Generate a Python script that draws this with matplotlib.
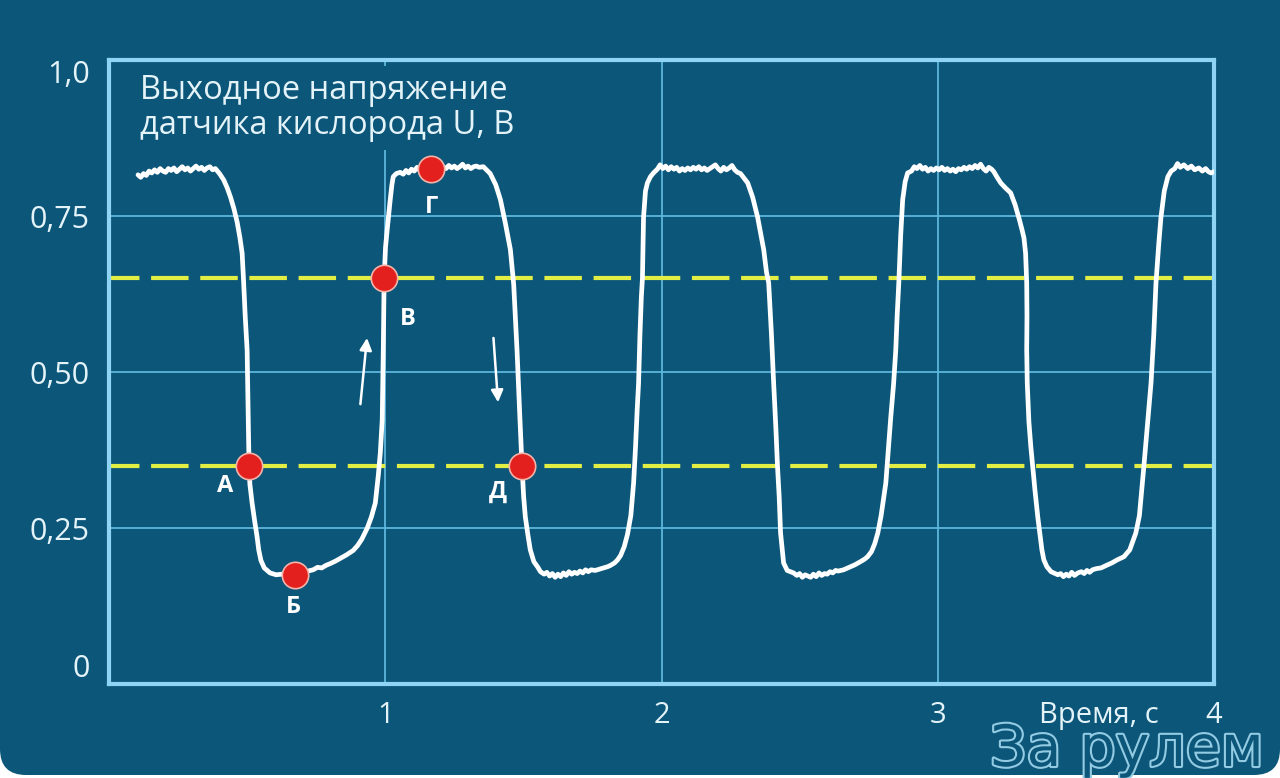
import matplotlib
matplotlib.use("Agg")
import matplotlib.pyplot as plt
from matplotlib.patches import FancyBboxPatch
from matplotlib.transforms import IdentityTransform
import matplotlib.patheffects as pe

# sensor output voltage trace (time in s, voltage in V)
time_s = [
    0.105, 0.115, 0.125, 0.135, 0.145, 0.155, 0.165, 0.175, 0.185, 0.195,
    0.205, 0.215, 0.225, 0.235, 0.245, 0.255, 0.265, 0.275, 0.285, 0.295,
    0.305, 0.315, 0.325, 0.335, 0.345, 0.355, 0.365, 0.375, 0.385,
    0.400, 0.415, 0.428, 0.440, 0.452, 0.464, 0.474, 0.482, 0.487, 0.493,
    0.500, 0.503, 0.505, 0.507, 0.510, 0.518, 0.527, 0.536, 0.542, 0.550,
    0.562, 0.583, 0.605, 0.625, 0.645, 0.660, 0.674, 0.690, 0.705, 0.720,
    0.739, 0.755, 0.770, 0.785, 0.801, 0.820, 0.840, 0.860, 0.884, 0.900,
    0.915, 0.935, 0.950, 0.964, 0.975, 0.982, 0.989, 0.993, 0.996, 1.001,
    1.007, 1.018, 1.024, 1.029, 1.040, 1.054, 1.065, 1.075, 1.085, 1.095,
    1.105, 1.115, 1.125, 1.135, 1.150, 1.167, 1.180, 1.190, 1.200, 1.210,
    1.220, 1.230, 1.240, 1.250, 1.260, 1.270, 1.280, 1.290, 1.300, 1.310,
    1.320, 1.330, 1.340, 1.355,
    1.380, 1.400, 1.417, 1.435, 1.453, 1.465, 1.471, 1.477, 1.482, 1.488,
    1.495, 1.501, 1.507, 1.516, 1.525, 1.538, 1.551, 1.562, 1.575,
    1.585, 1.595, 1.605, 1.615, 1.625, 1.635, 1.645, 1.655, 1.665, 1.675,
    1.685, 1.695, 1.705, 1.715, 1.725, 1.735, 1.745, 1.760, 1.775, 1.790,
    1.805, 1.815,
    1.830, 1.841, 1.852, 1.865, 1.877, 1.889, 1.899, 1.906, 1.912, 1.917,
    1.922, 1.927, 1.931, 1.935, 1.942, 1.949, 1.960, 1.971,
    1.985, 1.995, 2.005, 2.015, 2.025, 2.035, 2.045, 2.055, 2.065, 2.075,
    2.085, 2.095, 2.105, 2.115, 2.125, 2.135, 2.145, 2.155, 2.165, 2.175,
    2.185, 2.195, 2.205, 2.215, 2.225, 2.235, 2.245, 2.255, 2.265, 2.275,
    2.286,
    2.300, 2.312, 2.330, 2.348, 2.360, 2.370, 2.380, 2.388, 2.398, 2.406,
    2.414, 2.420, 2.426, 2.431, 2.437, 2.442, 2.455, 2.478,
    2.490, 2.500, 2.510, 2.520, 2.530, 2.540, 2.550, 2.560, 2.570, 2.580,
    2.590, 2.600, 2.610, 2.620, 2.630, 2.640, 2.659, 2.680, 2.700, 2.720,
    2.735, 2.746,
    2.760, 2.772, 2.783, 2.795, 2.805, 2.812, 2.822, 2.830, 2.840, 2.848,
    2.853, 2.859, 2.866, 2.873, 2.882, 2.891,
    2.905, 2.915, 2.925, 2.935, 2.945, 2.955, 2.965, 2.975, 2.985, 2.995,
    3.005, 3.015, 3.025, 3.035, 3.045, 3.055, 3.065, 3.075, 3.085, 3.095,
    3.105, 3.115, 3.125, 3.135, 3.145, 3.155, 3.165, 3.175, 3.185, 3.195,
    3.203,
    3.215, 3.228, 3.245, 3.264, 3.280, 3.295, 3.305, 3.312, 3.318, 3.322,
    3.323, 3.322, 3.324, 3.330, 3.337, 3.344, 3.352, 3.362, 3.370, 3.377,
    3.384, 3.395, 3.410, 3.420,
    3.435, 3.445, 3.455, 3.465, 3.475, 3.485, 3.495, 3.507, 3.520, 3.530,
    3.540, 3.550, 3.560, 3.575, 3.591, 3.610, 3.630, 3.650, 3.674, 3.695,
    3.717, 3.730, 3.746, 3.760, 3.772, 3.782, 3.790, 3.800, 3.808, 3.820,
    3.833, 3.845, 3.858, 3.868, 3.878, 3.891, 3.905, 3.918, 3.930, 3.945,
    3.958, 3.970, 3.980, 3.989, 4.000,
]
voltage = [
    0.816, 0.812, 0.818, 0.815, 0.822, 0.819, 0.824, 0.820, 0.826, 0.822,
    0.820, 0.826, 0.823, 0.827, 0.821, 0.825, 0.829, 0.824, 0.827, 0.822,
    0.826, 0.830, 0.825, 0.828, 0.823, 0.827, 0.829, 0.824, 0.826,
    0.818, 0.808, 0.795, 0.780, 0.762, 0.740, 0.715, 0.690, 0.647, 0.590,
    0.535, 0.450, 0.400, 0.350, 0.320, 0.290, 0.262, 0.236, 0.215, 0.198,
    0.186, 0.178, 0.175, 0.176, 0.172, 0.174, 0.175, 0.176, 0.178, 0.181,
    0.183, 0.187, 0.186, 0.190, 0.193, 0.197, 0.202, 0.207, 0.214, 0.222,
    0.232, 0.250, 0.268, 0.290, 0.335, 0.370, 0.423, 0.540, 0.650, 0.700,
    0.728, 0.776, 0.800, 0.813, 0.818, 0.820, 0.817, 0.823, 0.819, 0.825,
    0.822, 0.828, 0.823, 0.826, 0.822, 0.825, 0.823, 0.828, 0.824, 0.829,
    0.826, 0.831, 0.827, 0.830, 0.826, 0.829, 0.833, 0.827, 0.830, 0.826,
    0.829, 0.830, 0.828, 0.829,
    0.818, 0.800, 0.776, 0.738, 0.696, 0.640, 0.588, 0.535, 0.482, 0.420,
    0.350, 0.300, 0.268, 0.240, 0.215, 0.196, 0.188, 0.180, 0.176,
    0.179, 0.173, 0.177, 0.171, 0.176, 0.172, 0.178, 0.174, 0.180, 0.176,
    0.179, 0.177, 0.181, 0.178, 0.183, 0.180, 0.183, 0.182, 0.184, 0.186,
    0.188, 0.190,
    0.194, 0.199, 0.206, 0.220, 0.240, 0.270, 0.322, 0.380, 0.440, 0.482,
    0.560, 0.620, 0.650, 0.748, 0.790, 0.803, 0.813, 0.819,
    0.825, 0.832, 0.826, 0.830, 0.824, 0.829, 0.825, 0.828, 0.822, 0.826,
    0.823, 0.827, 0.824, 0.828, 0.825, 0.829, 0.824, 0.827, 0.823, 0.826,
    0.829, 0.832, 0.826, 0.822, 0.828, 0.824, 0.827, 0.831, 0.824, 0.820,
    0.818,
    0.810, 0.803, 0.780, 0.748, 0.720, 0.696, 0.660, 0.643, 0.560, 0.482,
    0.410, 0.348, 0.300, 0.242, 0.215, 0.194, 0.182, 0.178,
    0.174, 0.177, 0.171, 0.175, 0.173, 0.171, 0.176, 0.172, 0.178, 0.174,
    0.177, 0.176, 0.180, 0.178, 0.182, 0.181, 0.183, 0.187, 0.191, 0.196,
    0.200, 0.204,
    0.212, 0.225, 0.242, 0.270, 0.300, 0.322, 0.380, 0.428, 0.480, 0.535,
    0.590, 0.643, 0.720, 0.776, 0.805, 0.819,
    0.822, 0.829, 0.826, 0.831, 0.825, 0.828, 0.822, 0.826, 0.823, 0.827,
    0.824, 0.828, 0.823, 0.826, 0.822, 0.825, 0.821, 0.826, 0.824, 0.828,
    0.825, 0.829, 0.826, 0.831, 0.827, 0.833, 0.826, 0.822, 0.828, 0.825,
    0.821,
    0.812, 0.803, 0.795, 0.787, 0.768, 0.745, 0.728, 0.715, 0.690, 0.643,
    0.590, 0.535, 0.482, 0.420, 0.380, 0.348, 0.310, 0.268, 0.240, 0.215,
    0.199, 0.188, 0.180, 0.178,
    0.175, 0.177, 0.172, 0.176, 0.173, 0.179, 0.174, 0.178, 0.180, 0.177,
    0.182, 0.179, 0.183, 0.185, 0.186, 0.190, 0.194, 0.199, 0.204, 0.215,
    0.242, 0.270, 0.348, 0.420, 0.482, 0.560, 0.643, 0.705, 0.748, 0.790,
    0.813, 0.822, 0.826, 0.834, 0.828, 0.832, 0.826, 0.830, 0.824, 0.827,
    0.822, 0.826, 0.821, 0.819, 0.821,
]

# marked points
point_x = [0.507, 0.674, 0.996, 1.167, 1.495]
point_y = [0.35, 0.175, 0.65, 0.825, 0.35]
point_labels = ["А", "Б", "В", "Г", "Д"]
label_offsets = [(-17, -15), (-1, -23), (17, -29), (0, -27), (-17, -19)]

thresholds = [0.35, 0.65]
x_ticks = [1, 2, 3, 4]
x_ticklabels = ["1", "2", "3", "4"]
y_ticks = [0, 0.25, 0.5, 0.75, 1.0]
y_ticklabels = ["0", "0,25", "0,50", "0,75", "1,0"]

bg = "#0c567a"
frame = "#8fd4f4"
gridc = "#5db6dc"
textc = "#e4f3f8"

plt.rcParams["font.family"] = ["Open Sans", "DejaVu Sans"]

fig = plt.figure(figsize=(12.8, 7.78), dpi=100, facecolor="white")
card = FancyBboxPatch((0, 3), 1280, 900, boxstyle="round,pad=0,rounding_size=26",
                      transform=IdentityTransform(), facecolor=bg, edgecolor="none",
                      zorder=-5)
fig.add_artist(card)

ax = fig.add_axes([109 / 1280, 1 - 684 / 778, 1105 / 1280, 624 / 778])
ax.set_facecolor(bg)
ax.set_xlim(0, 4)
ax.set_ylim(0, 1)

for s in ax.spines.values():
    s.set_color(frame)
    s.set_linewidth(3)

for x in [1, 2, 3]:
    ax.axvline(x, color=gridc, lw=1.3, zorder=1)
for y in [0.25, 0.5, 0.75]:
    ax.axhline(y, color=gridc, lw=1.3, zorder=1)

for y in thresholds:
    ax.axhline(y, color="#e2ee44", lw=3, linestyle=(1.7, (9.0, 2.8)), zorder=2)

ax.plot(time_s, voltage, color="white", lw=3.4, solid_joinstyle="round",
        solid_capstyle="round", zorder=3)

ax.plot(point_x, point_y, "o", ms=19, mfc="#e3201e", mec="#f2b3a8", mew=1.2, zorder=4)
for px, py, lab, off in zip(point_x, point_y, point_labels, label_offsets):
    ax.annotate(lab, (px, py), xytext=off, textcoords="offset points",
                ha="center", va="center", color="white", fontsize=17,
                fontweight="bold", zorder=5)

ax.annotate("", xy=(0.935, 0.559), xytext=(0.909, 0.444),
            arrowprops=dict(arrowstyle="-|>", color="white", lw=1.8, mutation_scale=18))
ax.annotate("", xy=(1.409, 0.447), xytext=(1.391, 0.559),
            arrowprops=dict(arrowstyle="-|>", color="white", lw=1.8, mutation_scale=18))

ax.text(0.112, 0.978, "Выходное напряжение\nдатчика кислорода U, В", ha="left", va="top",
        color=textc, fontsize=23.5, linespacing=1.08, zorder=2.5,
        bbox=dict(boxstyle="square,pad=0.25", fc=bg, ec="none"))

ax.set_xticks(x_ticks)
ax.set_xticklabels(x_ticklabels)
ax.set_yticks(y_ticks)
ax.set_yticklabels(y_ticklabels)
ax.tick_params(length=0, labelcolor=textc, labelsize=22)
ax.tick_params(axis="x", pad=12, labelsize=21)
ax.tick_params(axis="y", pad=14)
yt = ax.yaxis.get_major_ticks()
yt[0].label1.set_va("bottom")
yt[-1].label1.set_va("top")

# watermark of the magazine
fig.text(990 / 1280, 1 - 766 / 778, "За рулем", color=bg, fontsize=41,
         family="DejaVu Sans", ha="left", va="baseline", zorder=1,
         path_effects=[pe.withStroke(linewidth=3, foreground="#93cbe2")])

ax.text(3.366, -0.05, "Время, с", ha="left", va="center", color=textc,
        fontsize=21, clip_on=False, zorder=6)

fig.savefig("out.png", dpi=100, facecolor=fig.get_facecolor())
